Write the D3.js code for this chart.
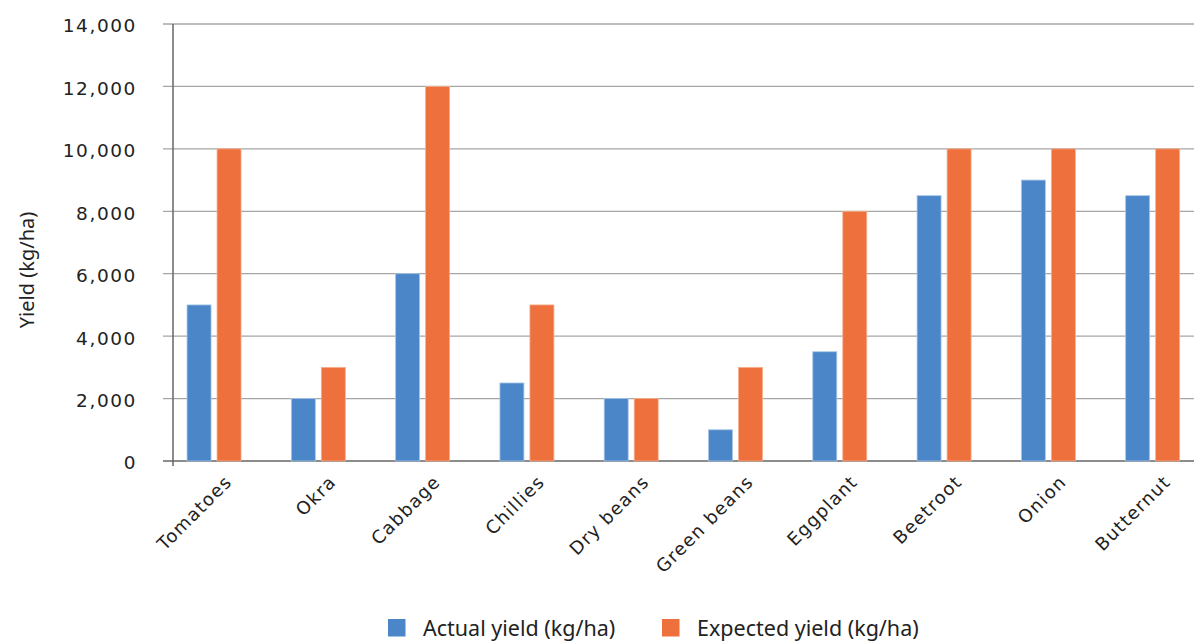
<!DOCTYPE html>
<html>
<head>
<meta charset="utf-8">
<script src="https://cdn.jsdelivr.net/npm/d3@7"></script>
<style>
  html, body { margin: 0; padding: 0; background: #fff; overflow: hidden; }
  svg { display: block; }
</style>
</head>
<body>
<svg id="chart" width="1194" height="642"></svg>
<script>
const categories = ["Tomatoes", "Okra", "Cabbage", "Chillies", "Dry beans", "Green beans", "Eggplant", "Beetroot", "Onion", "Butternut"];
const actualYield = [5000, 2000, 6000, 2500, 2000, 1000, 3500, 8500, 9000, 8500];
const expectedYield = [10000, 3000, 12000, 5000, 2000, 3000, 8000, 10000, 10000, 10000];
const seriesNames = ["Actual yield (kg/ha)", "Expected yield (kg/ha)"];
const yTicks = [0, 2000, 4000, 6000, 8000, 10000, 12000, 14000];

const colors = ["#4a86c8", "#ed703d"];
const svg = d3.select("#chart");
const W = 1194;
const axisX = 173, plotTop = 24, plotBottom = 461;

const x = d3.scaleBand().domain(categories).range([161.9, 1204.8]).paddingInner(0).paddingOuter(0);
const y = d3.scaleLinear().domain([0, 14000]).range([plotBottom, plotTop]);
const barW = 24, gap = 6;

// gridlines
svg.append("g").selectAll("line").data(yTicks).join("line")
  .attr("x1", 163).attr("x2", W)
  .attr("y1", d => y(d)).attr("y2", d => y(d))
  .attr("stroke", d => d === 0 ? "#666" : "#a6a6a6")
  .attr("stroke-width", d => d === 0 ? 1.5 : 1.3);

// y tick labels
svg.append("g").selectAll("text").data(yTicks).join("text")
  .attr("x", 137).attr("y", d => y(d) + 2)
  .attr("dy", "0.35em")
  .attr("text-anchor", "end")
  .attr("font-family", "'DejaVu Sans', sans-serif")
  .attr("font-size", 18.5)
  .attr("letter-spacing", 1.6)
  .attr("fill", "#222")
  .text(d => d3.format(",")(d));

// bars
const series = [actualYield, expectedYield];
series.forEach((vals, si) => {
  svg.append("g").selectAll("rect").data(categories).join("rect")
    .attr("x", (c) => x(c) + x.bandwidth() / 2 - gap / 2 - barW + si * (barW + gap))
    .attr("y", (c, i) => y(vals[i]))
    .attr("width", barW)
    .attr("height", (c, i) => y(0) - y(vals[i]))
    .attr("fill", colors[si])
    .attr("stroke", si === 0 ? "#a9c6e8" : "#f5b08f")
    .attr("stroke-width", 0.8);
});

// y axis line
svg.append("line").attr("x1", axisX).attr("x2", axisX).attr("y1", plotTop).attr("y2", plotBottom + 5)
  .attr("stroke", "#666").attr("stroke-width", 1.5);

// x labels
svg.append("g").selectAll("text").data(categories).join("text")
  .attr("transform", c => `translate(${x(c) + x.bandwidth() / 2 + 19},${plotBottom + 22}) rotate(-45)`)
  .attr("text-anchor", "end")
  .attr("font-family", "'DejaVu Sans', sans-serif")
  .attr("font-size", 18)
  .attr("letter-spacing", 1.3)
  .attr("fill", "#222")
  .text(c => c);

// y title
svg.append("text")
  .attr("transform", `translate(34,270) rotate(-90)`)
  .attr("text-anchor", "middle")
  .attr("font-family", "'Noto Sans', sans-serif")
  .attr("font-size", 20)
  .attr("fill", "#222")
  .text("Yield (kg/ha)");

// legend
const legendX = [388, 662];
seriesNames.forEach((n, i) => {
  svg.append("rect").attr("x", legendX[i]).attr("y", 619).attr("width", 17.5).attr("height", 17.5).attr("fill", colors[i]);
  svg.append("text").attr("x", legendX[i] + 35).attr("y", 636)
    .attr("font-family", "'Noto Sans', sans-serif")
    .attr("font-size", 21.5)
    .attr("fill", "#222")
    .text(n);
});
</script>
</body>
</html>
